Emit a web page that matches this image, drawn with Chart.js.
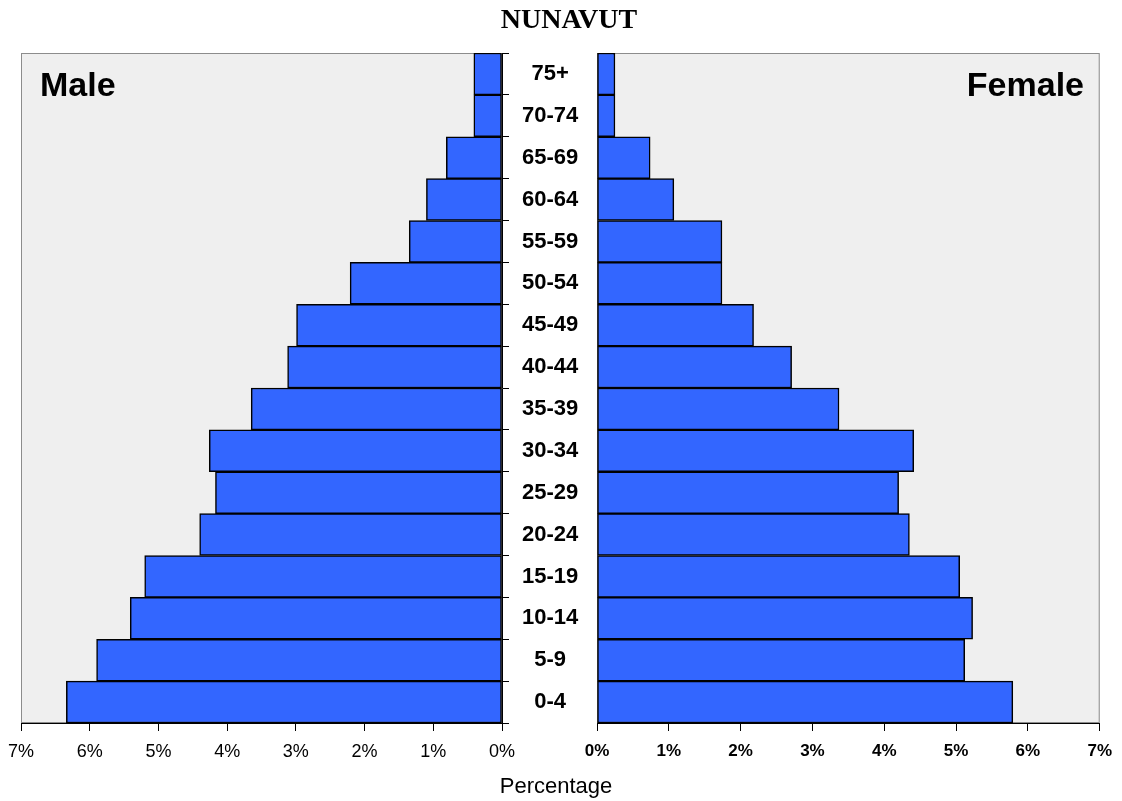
<!DOCTYPE html>
<html>
<head>
<meta charset="utf-8">
<script src="https://cdn.jsdelivr.net/npm/chart.js@4.4.1/dist/chart.umd.min.js"></script>
<style>
    body { margin: 0; background: #fff; font-family: "Liberation Sans", Arial, sans-serif; }
    #wrap { position: relative; width: 1122px; height: 801px; }
    canvas { position: absolute; left: 0; top: 0; }
    #femaleChart { pointer-events: none; }
    .txt { position: absolute; white-space: nowrap; }
    #title { left: 0; width: 1138px; top: 3px; text-align: center; font: bold 28px "Liberation Serif", "Times New Roman", serif; }
    #male { left: 40px; top: 65px; font: bold 34px "Liberation Sans", Arial, sans-serif; }
    #female { right: 38px; top: 65px; font: bold 34px "Liberation Sans", Arial, sans-serif; }
    #xtitle { left: 0; width: 1112px; top: 773px; text-align: center; font: 22px "Liberation Sans", Arial, sans-serif; }
</style>
</head>
<body>
<div id="wrap">
    <canvas id="maleChart" width="1122" height="801"></canvas>
    <canvas id="femaleChart" width="1122" height="801"></canvas>
    <div class="txt" id="title">NUNAVUT</div>
    <div class="txt" id="male">Male</div>
    <div class="txt" id="female">Female</div>
    <div class="txt" id="xtitle">Percentage</div>
</div>
<script>
// age groups, youngest first (drawn bottom to top)
const ageGroups = ['0-4', '5-9', '10-14', '15-19', '20-24', '25-29', '30-34', '35-39',
    '40-44', '45-49', '50-54', '55-59', '60-64', '65-69', '70-74', '75+'];
const malePct = [6.34, 5.90, 5.41, 5.20, 4.40, 4.17, 4.26, 3.65, 3.12, 2.99, 2.21, 1.35, 1.10, 0.81, 0.41, 0.41];
const femalePct = [5.79, 5.12, 5.23, 5.05, 4.35, 4.20, 4.41, 3.37, 2.71, 2.18, 1.74, 1.74, 1.07, 0.74, 0.25, 0.25];
const pctTicks = [0, 1, 2, 3, 4, 5, 6, 7];

const barColor = '#3366ff';

// grey plot background with a thin border
const plotBg = {
    id: 'plotBg',
    beforeDraw(chart) {
        const a = chart.chartArea;
        const ctx = chart.ctx;
        ctx.save();
        ctx.fillStyle = '#efefef';
        ctx.fillRect(a.left, a.top, a.right - a.left, a.bottom - a.top);
        ctx.strokeStyle = '#8c8c8c';
        ctx.lineWidth = 1;
        ctx.strokeRect(a.left + 0.5, a.top + 0.5, a.right - a.left - 1, a.bottom - a.top - 1);
        ctx.restore();
    }
};

function barDataset(values) {
    return {
        data: values,
        backgroundColor: barColor,
        borderColor: '#000',
        borderWidth: 1.5,
        borderSkipped: false,
        barPercentage: 1,
        categoryPercentage: 1
    };
}

function pctAxis(reverse, bold) {
    return {
        type: 'linear',
        reverse: reverse,
        min: 0,
        max: 7,
        afterBuildTicks: scale => { scale.ticks = pctTicks.map(v => ({ value: v })); },
        afterFit: scale => { scale.height = 40; },
        ticks: {
            callback: v => v + '%',
            color: '#000',
            padding: 10,
            maxRotation: 0,
            font: { family: 'Liberation Sans', size: bold ? 17 : 18, weight: bold ? 'bold' : 'normal' }
        },
        grid: { drawOnChartArea: false, drawTicks: true, tickLength: 8, color: '#000' },
        border: { display: true, color: '#000', width: 1 }
    };
}

new Chart(document.getElementById('maleChart'), {
    type: 'bar',
    data: { labels: ageGroups, datasets: [barDataset(malePct)] },
    plugins: [plotBg],
    options: {
        responsive: false,
        animation: false,
        indexAxis: 'y',
        layout: { padding: { left: 21, right: 525, top: 53, bottom: 38 } },
        plugins: { legend: { display: false }, tooltip: { enabled: false } },
        scales: {
            x: pctAxis(true, false),
            y: {
                position: 'right',
                reverse: true,
                afterFit: scale => { scale.width = 95; },
                ticks: {
                    color: '#000',
                    crossAlign: 'center',
                    padding: 13,
                    font: { family: 'Liberation Sans', size: 22, weight: 'bold' }
                },
                grid: { offset: true, drawOnChartArea: false, tickLength: 7, color: '#000' },
                border: { display: true, color: '#000', width: 1 }
            }
        }
    }
});

new Chart(document.getElementById('femaleChart'), {
    type: 'bar',
    data: { labels: ageGroups, datasets: [barDataset(femalePct)] },
    plugins: [plotBg],
    options: {
        responsive: false,
        animation: false,
        indexAxis: 'y',
        layout: { padding: { left: 597, right: 21, top: 53, bottom: 38 } },
        plugins: { legend: { display: false }, tooltip: { enabled: false } },
        scales: {
            x: pctAxis(false, true),
            y: { display: false, reverse: true }
        }
    }
});
</script>
</body>
</html>
